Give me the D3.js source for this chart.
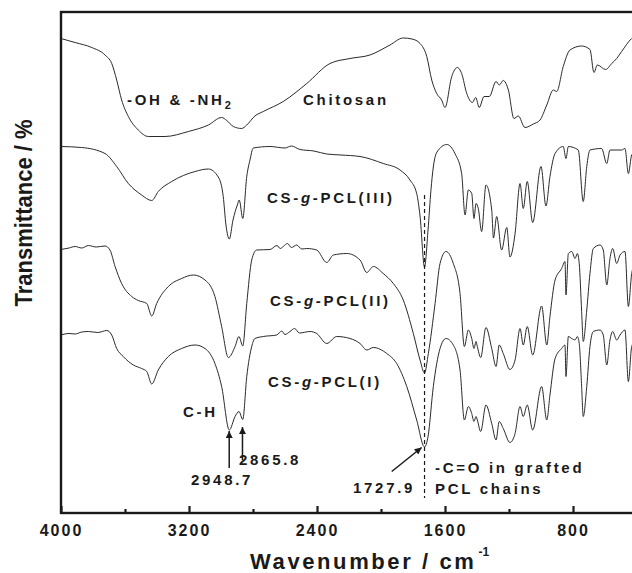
<!DOCTYPE html>
<html>
<head>
<meta charset="utf-8">
<script src="https://cdn.jsdelivr.net/npm/d3@7"></script>
<style>
  body { margin: 0; background: #fff; }
  text { font-family: "Liberation Sans", Arial, sans-serif; font-weight: bold; fill: #1a1a1a; }
</style>
</head>
<body>
<svg id="chart"></svg>
<script>
// FTIR spectra, wavenumber (cm-1) vs transmittance (offset, a.u.)
const chitosan = [[4000,94.9],[3912,94.1],[3808,93.1],[3725,91.6],[3683,89.9],[3652,86.6],[3621,82.6],[3579,79.3],[3517,76.6],[3454,75.3],[3350,75.3],[3204,76.3],[3079,77.6],[2996,79.1],[2964,78.5],[2923,77.3],[2871,76.9],[2839,77.6],[2788,79.4],[2736,80.3],[2611,82.3],[2464,85.9],[2319,89.9],[2194,90.9],[2069,91.6],[1944,93.6],[1862,95.0],[1806,94.8],[1756,93.9],[1714,91.3],[1683,86.6],[1652,83.9],[1621,82.6],[1600,81.1],[1558,87.3],[1523,89.1],[1496,87.9],[1464,83.9],[1429,82.1],[1408,83.1],[1386,81.1],[1356,83.3],[1323,83.3],[1281,86.3],[1261,85.6],[1236,86.5],[1204,84.6],[1169,78.9],[1142,79.4],[1100,77.1],[1048,77.8],[1006,78.6],[964,81.6],[923,84.6],[902,84.3],[861,89.3],[819,92.6],[746,93.4],[694,92.7],[669,88.1],[648,89.6],[596,88.7],[558,89.9],[527,90.9],[496,92.3],[433,94.9],[400,95.5]];

const pclIII = [[4000,73.3],[3871,73.1],[3725,71.9],[3652,69.3],[3579,65.9],[3496,63.6],[3433,62.5],[3392,64.3],[3308,66.3],[3162,68.3],[3079,68.8],[3017,67.2],[2986,63.3],[2969,57.6],[2948,54.8],[2925,58.6],[2898,61.6],[2886,62.6],[2864,58.9],[2839,67.3],[2819,70.6],[2798,73.0],[2694,73.3],[2600,73.0],[2560,73.4],[2506,72.7],[2420,72.4],[2339,71.8],[2250,71.6],[2131,71.3],[1986,69.9],[1881,68.6],[1819,66.6],[1777,63.9],[1756,59.4],[1728,49.2],[1706,56.6],[1688,64.5],[1673,69.2],[1650,72.2],[1589,73.7],[1538,71.9],[1496,67.9],[1475,59.6],[1454,64.6],[1433,63.9],[1419,58.9],[1406,61.9],[1392,60.9],[1371,56.3],[1344,65.6],[1308,60.6],[1297,55.0],[1277,59.3],[1246,52.6],[1214,57.1],[1194,51.2],[1162,55.9],[1131,65.9],[1111,60.9],[1086,66.3],[1052,58.1],[1000,69.3],[969,61.4],[944,67.3],[912,71.9],[861,73.3],[844,70.9],[829,73.3],[767,72.6],[736,62.3],[714,69.3],[694,72.6],[621,72.9],[589,69.9],[569,72.6],[496,72.6],[475,72.9],[454,67.9],[433,71.6],[400,72.5]];

const pclII = [[4000,52.7],[3950,53.0],[3912,53.3],[3870,53.0],[3829,53.5],[3780,53.2],[3725,53.4],[3694,52.6],[3662,49.3],[3621,45.9],[3558,43.3],[3517,42.5],[3464,41.9],[3433,39.4],[3402,41.9],[3329,45.3],[3246,46.9],[3173,47.6],[3100,46.6],[3038,43.3],[2996,37.3],[2954,31.1],[2912,33.3],[2888,35.3],[2864,33.4],[2839,41.9],[2808,50.6],[2777,52.6],[2694,52.7],[2650,53.5],[2630,52.9],[2611,53.3],[2585,53.9],[2560,53.1],[2527,53.6],[2495,52.8],[2464,52.9],[2402,52.6],[2339,50.1],[2298,51.6],[2214,51.9],[2131,50.6],[2089,48.1],[2048,49.3],[1986,47.9],[1923,45.9],[1861,42.6],[1798,35.9],[1756,30.6],[1728,28.0],[1704,31.9],[1662,41.9],[1631,49.9],[1594,52.3],[1548,49.9],[1506,43.9],[1479,33.3],[1454,36.6],[1433,34.9],[1419,32.9],[1406,34.3],[1398,33.3],[1377,31.1],[1344,37.1],[1308,32.9],[1281,29.3],[1261,33.6],[1236,31.9],[1194,28.7],[1162,30.6],[1131,36.9],[1111,33.6],[1086,37.3],[1052,31.6],[996,41.4],[964,33.6],[944,39.3],[912,46.6],[871,48.9],[850,50.3],[844,43.6],[829,51.9],[808,52.3],[787,50.9],[773,51.9],[761,49.9],[746,40.3],[736,34.3],[714,40.6],[694,47.9],[673,52.9],[631,53.6],[611,52.6],[589,45.6],[569,50.9],[552,52.9],[527,49.9],[506,51.6],[475,52.3],[454,41.3],[433,47.9],[400,51.0]];

const pclI = [[4000,35.6],[3950,35.9],[3912,35.8],[3870,36.2],[3829,36.3],[3770,36.1],[3714,36.5],[3683,35.6],[3652,32.9],[3611,31.3],[3548,29.6],[3496,28.9],[3464,28.3],[3433,25.8],[3392,28.6],[3329,31.3],[3246,32.9],[3162,33.6],[3100,32.9],[3038,29.9],[2996,25.3],[2948,16.6],[2912,19.3],[2888,20.3],[2864,18.7],[2839,27.3],[2808,33.3],[2788,34.9],[2736,35.3],[2652,35.6],[2620,36.4],[2600,35.7],[2569,36.3],[2540,36.9],[2510,36.0],[2444,36.3],[2402,35.9],[2339,33.9],[2277,35.3],[2194,34.9],[2131,33.9],[2089,32.6],[2048,33.1],[1964,31.9],[1902,29.9],[1839,25.3],[1777,18.6],[1728,13.2],[1706,15.3],[1673,25.3],[1631,32.9],[1594,34.9],[1548,33.6],[1506,28.6],[1479,18.6],[1454,21.3],[1433,19.9],[1419,18.3],[1406,19.3],[1398,18.6],[1377,16.3],[1344,21.6],[1308,17.9],[1281,14.6],[1261,18.3],[1236,16.9],[1194,14.1],[1162,15.9],[1131,21.3],[1111,19.3],[1086,21.6],[1052,16.6],[996,25.3],[964,18.6],[944,23.6],[912,30.9],[871,32.9],[850,33.6],[844,27.3],[829,35.3],[808,34.9],[787,34.6],[773,35.3],[761,33.9],[746,25.3],[736,19.3],[714,25.3],[694,33.3],[673,36.3],[631,36.6],[611,35.6],[589,29.6],[569,34.6],[552,36.3],[527,34.6],[506,35.6],[475,36.6],[454,26.3],[433,33.3],[400,35.0]];

const spectra = [chitosan, pclIII, pclII, pclI];
const majorTicks = [4000, 3200, 2400, 1600, 800];
const minorTicks = [3600, 2800, 2000, 1200, 400];

// peak markers: [wavenumber, from T, to T]
const peakArrows = [[2948.7, 9.0, 16.4], [2865.8, 10.6, 17.2]];
const carbonyl = 1727.9;

const W = 632, H = 573;
const plot = { left: 61, right: 637, top: 12, bottom: 513 };

const svg = d3.select("#chart").attr("width", W).attr("height", H);

const x = d3.scaleLinear().domain([4000, 400]).range([plot.left, plot.right]);
const y = d3.scaleLinear().domain([0, 100]).range([plot.bottom, plot.top + 1]);

const line = d3.line()
  .x(d => x(d[0]))
  .y(d => y(d[1]))
  .curve(d3.curveMonotoneX);

svg.append("defs").append("marker")
  .attr("id", "head")
  .attr("viewBox", "0 0 10 10")
  .attr("refX", 10).attr("refY", 5)
  .attr("markerWidth", 9).attr("markerHeight", 7)
  .attr("markerUnits", "userSpaceOnUse")
  .attr("orient", "auto")
  .append("path").attr("d", "M0,0L10,5L0,10z").attr("fill", "#1a1a1a");

// spectra
svg.append("g").selectAll("path")
  .data(spectra)
  .enter().append("path")
    .attr("d", line)
    .attr("fill", "none")
    .attr("stroke", "#2a2a2a")
    .attr("stroke-width", 1);

// dashed line at C=O
svg.append("line")
  .attr("x1", x(carbonyl)).attr("x2", x(carbonyl))
  .attr("y1", y(63.6)).attr("y2", y(3.0))
  .attr("stroke", "#1a1a1a").attr("stroke-width", 1.2)
  .attr("stroke-dasharray", "4,3");

// axes (ticks pointing inward)
const xAxis = d3.axisBottom(x).tickValues(majorTicks).tickSize(-7).tickPadding(12).tickFormat(d3.format("d"));
const gx = svg.append("g").attr("transform", `translate(0,${plot.bottom})`).call(xAxis);
gx.select(".domain").remove();
gx.selectAll("line").attr("stroke", "#1a1a1a").attr("stroke-width", 2.2);
gx.selectAll("text")
  .attr("fill", "#1a1a1a")
  .style("font-size", "16px")
  .style("letter-spacing", "2px")
  .style("font-family", "'Liberation Sans', Arial, sans-serif")
  .style("font-weight", "bold");

const gm = svg.append("g").attr("transform", `translate(0,${plot.bottom})`)
  .call(d3.axisBottom(x).tickValues(minorTicks).tickSize(-4).tickFormat(""));
gm.select(".domain").remove();
gm.selectAll("line").attr("stroke", "#1a1a1a").attr("stroke-width", 2.2);

// frame
svg.append("rect")
  .attr("x", plot.left).attr("y", plot.top)
  .attr("width", plot.right - plot.left).attr("height", plot.bottom - plot.top)
  .attr("fill", "none").attr("stroke", "#1a1a1a").attr("stroke-width", 2.4);

// axis titles
const xt = svg.append("text").attr("x", 250).attr("y", 569)
  .style("font-size", "22px").style("letter-spacing", "2.6px");
xt.append("tspan").text("Wavenumber / cm");
xt.append("tspan").attr("dy", -13).attr("dx", 2).style("font-size", "12px").style("letter-spacing", "0px").text("-1");

svg.append("text")
  .attr("transform", "translate(32,213) rotate(-90)")
  .attr("text-anchor", "middle")
  .attr("textLength", 187).attr("lengthAdjust", "spacingAndGlyphs")
  .style("font-size", "24px")
  .text("Transmittance / %");

// spectrum labels
function label(px, py, parts) {
  const t = svg.append("text").attr("x", px).attr("y", py)
    .style("font-size", "15px").style("letter-spacing", "2.7px");
  parts.forEach(p => {
    const s = t.append("tspan").text(p.t);
    if (p.i) s.style("font-style", "italic");
    if (p.sub) s.attr("dy", 4).style("font-size", "11px");
  });
}
label(127, 105, [{ t: "-OH & -NH" }, { t: "2", sub: true }]);
label(303, 105, [{ t: "Chitosan" }]);
label(267, 203, [{ t: "CS-" }, { t: "g", i: true }, { t: "-PCL(III)" }]);
label(270, 306, [{ t: "CS-" }, { t: "g", i: true }, { t: "-PCL(II)" }]);
label(268, 387, [{ t: "CS-" }, { t: "g", i: true }, { t: "-PCL(I)" }]);
label(183, 417, [{ t: "C-H" }]);
label(191, 485, [{ t: "2948.7" }]);
label(239, 465, [{ t: "2865.8" }]);
label(353, 493, [{ t: "1727.9" }]);
label(435, 473, [{ t: "-C=O in grafted" }]);
label(435, 494, [{ t: "PCL chains" }]);

// arrows
svg.append("g").selectAll("line")
  .data(peakArrows)
  .enter().append("line")
    .attr("x1", d => x(d[0])).attr("x2", d => x(d[0]))
    .attr("y1", d => y(d[1])).attr("y2", d => y(d[2]))
    .attr("stroke", "#1a1a1a").attr("stroke-width", 1.5)
    .attr("marker-end", "url(#head)");

svg.append("line")
  .attr("x1", x(1933)).attr("y1", y(8.3))
  .attr("x2", x(1746)).attr("y2", y(13.1))
  .attr("stroke", "#1a1a1a").attr("stroke-width", 1.5)
  .attr("marker-end", "url(#head)");
</script>
</body>
</html>
